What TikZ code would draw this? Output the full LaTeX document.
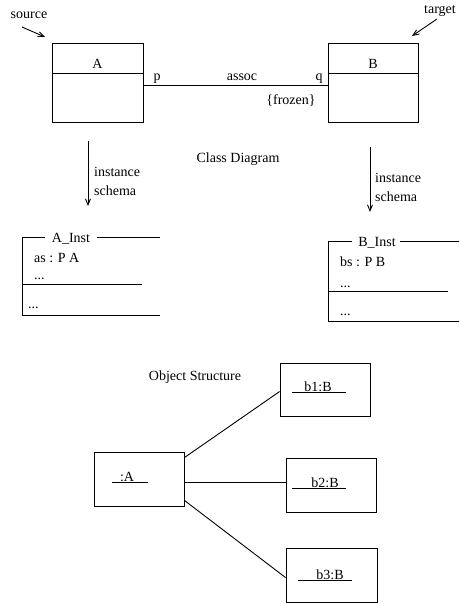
\documentclass[tikz,border=0pt]{standalone}
\usepackage{fontspec}
\setmainfont{Liberation Serif}
\usetikzlibrary{arrows.meta,calc}
\begin{document}
\begin{tikzpicture}[x=1pt,y=-1pt,
  every node/.style={font=\fontsize{14}{16}\selectfont, inner sep=0pt},
  lbl/.style={anchor=base},
  lblw/.style={anchor=base west},
  line/.style={line width=0.9pt},
  box/.style={draw, line width=0.9pt, minimum width=#1},
  tall/.style={minimum height=79pt},
  short/.style={minimum height=54pt},
  arr/.style={line, -{Straight Barb[length=6pt,width=5pt]}}
]
\useasboundingbox (0,0) rectangle (459,603);

% ---------------- class diagram ----------------
\node[box=91pt, tall] (A) at (97.5,82.5) {};
\node[box=90pt, tall] (B) at (373,82.5) {};
\draw[line] ($(A.north west)+(0,31)$) -- ($(A.north east)+(0,31)$);
\draw[line] ($(B.north west)+(0,31)$) -- ($(B.north east)+(0,31)$);
\node[lbl] (Aname) at (97.5,68) {A};
\node[lbl] (Bname) at (373,68) {B};

% association
\draw[line] ($(A.north east)+(0,43)$) -- ($(B.north west)+(0,43)$);
\node[lbl] (p) at (157,80) {p};
\node[lbl] (assoc) at (242,80) {assoc};
\node[lbl] (q) at (319,80) {q};
\node[lbl] (frozen) at (291,104) {\{frozen\}};

% source / target markers
\node[lbl] (src) at (29,18) {source};
\node[lbl] (tgt) at (440,13) {target};
\coordinate (srcS) at (22,27);
\coordinate (srcE) at (45,37);
\coordinate (tgtS) at (437,19);
\coordinate (tgtE) at (412,36);
\draw[arr] (srcS) -- (srcE);
\draw[arr] (tgtS) -- (tgtE);

\node[lbl] (cd) at (238,162) {Class Diagram};

% instance schema arrows
\coordinate (la1) at (88,141);
\coordinate (la2) at (88,206);
\coordinate (ra1) at (370,147);
\coordinate (ra2) at (370,212);
\draw[arr] (la1) -- (la2);
\draw[arr] (ra1) -- (ra2);
\node[lblw] (li1) at (94,176) {instance};
\node[lblw] (li2) at (94,195) {schema};
\node[lblw] (ri1) at (375,182) {instance};
\node[lblw] (ri2) at (375,201) {schema};

% ---------------- schemas ----------------
% A_Inst
\node[lbl] (AInst) at (71,242) {A\_Inst};
\coordinate (aTL) at (22,237);
\coordinate (aTR) at (160,237);
\coordinate (aML) at (22,284);
\coordinate (aMR) at (142,284);
\coordinate (aBL) at (22,315);
\coordinate (aBR) at (160,315);
\draw[line] (aTL) -- ([xshift=-7pt]AInst.west |- aTL);
\draw[line] ([xshift=7pt]AInst.east |- aTL) -- (aTR);
\draw[line] (aTL) -- (aBL) -- (aBR);
\draw[line] (aML) -- (aMR);
\node[lblw] (as) at (34,262) {as : P A};
\node[lblw] (ad1) at (34,279) {...};
\node[lblw] (ad2) at (28,308) {...};

% B_Inst
\node[lbl] (BInst) at (377,246) {B\_Inst};
\coordinate (bTL) at (328,241);
\coordinate (bTR) at (459,241);
\coordinate (bML) at (328,291);
\coordinate (bMR) at (448,291);
\coordinate (bBL) at (328,321);
\coordinate (bBR) at (459,321);
\draw[line] (bTL) -- ([xshift=-6pt]BInst.west |- bTL);
\draw[line] ([xshift=4pt]BInst.east |- bTL) -- (bTR);
\draw[line] (bTL) -- (bBL) -- (bBR);
\draw[line] (bML) -- (bMR);
\node[lblw] (bs) at (340,266) {bs : P B};
\node[lblw] (bd1) at (340,287) {...};
\node[lblw] (bd2) at (340,315) {...};

% ---------------- object structure ----------------
\node[lbl] (os) at (195,380) {Object Structure};

\node[box=90pt, short] (oA) at (139,479) {};
\node[box=90pt, minimum height=53pt] (b1) at (325,389.5) {};
\node[box=90pt, short] (b2) at (331,485) {};
\node[box=91pt, short] (b3) at (331.5,575) {};

\node[lbl] (oAt) at (127,481.5) {:A};
\node[lbl] (b1t) at (318,391.5) {b1:B};
\node[lbl] (b2t) at (325,487.5) {b2:B};
\node[lbl] (b3t) at (330,579.5) {b3:B};
\draw[line] (112,482) -- (148,482);
\draw[line] (292,392) -- (346,392);
\draw[line] (292,488) -- (346,488);
\draw[line] (298,580) -- (352,580);

\draw[line] ($(oA.north east)+(0,6)$) -- ($(b1.north west)+(0,29)$);
\draw[line] ($(oA.east)+(0,3)$) -- ($(b2.west)+(0,-3)$);
\draw[line] ($(oA.south east)+(0,-6)$) -- ($(b3.north west)+(0,30)$);
\end{tikzpicture}
\end{document}
